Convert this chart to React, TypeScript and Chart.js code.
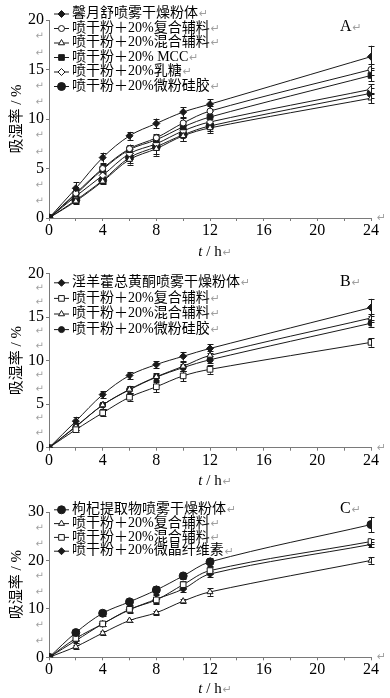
import React, { useEffect, useRef } from "react";
import { Chart, registerables } from "chart.js";
import { drawPoint } from "chart.js/helpers";

Chart.register(...registerables);

const FONT = "'Liberation Serif', 'Noto Sans CJK SC', serif";

// x axis: sampling times (h) and tick labels
const hours = [0, 2, 4, 6, 8, 10, 12, 24];
const xMinorTicks = [0, 2, 4, 6, 8, 10, 12, 14, 16, 18, 20, 22, 24];
const xTickLabels = [0, 4, 8, 12, 16, 20, 24];

// Panel A
const yTicksA = [0, 5, 10, 15, 20];
const labelsA = [
  "馨月舒喷雾干燥粉体",
  "喷干粉＋20%复合辅料",
  "喷干粉＋20%混合辅料",
  "喷干粉＋20% MCC",
  "喷干粉＋20%乳糖",
  "喷干粉＋20%微粉硅胶",
];
const a1 = [0, 3.0, 6.1, 8.3, 9.55, 10.7, 11.5, 16.3];
const a1Err = [0, 0.6, 0.5, 0.4, 0.5, 0.5, 0.5, 1.1];
const a2 = [0, 2.5, 5.0, 7.0, 8.1, 9.6, 10.8, 15.0];
const a2Err = [0, 0.4, 0.5, 0.4, 0.4, 0.5, 0.5, 0.6];
const a3 = [0, 1.7, 3.7, 5.9, 7.0, 8.3, 9.1, 12.1];
const a3Err = [0, 0.3, 0.3, 0.5, 0.5, 0.5, 0.5, 0.5];
const a4 = [0, 2.4, 4.9, 6.9, 7.9, 9.2, 10.2, 14.4];
const a4Err = [0, 0.4, 0.5, 0.5, 0.5, 0.5, 0.6, 0.6];
const a5 = [0, 2.2, 4.3, 6.5, 7.5, 8.8, 9.7, 13.0];
const a5Err = [0, 0.4, 0.4, 0.5, 0.5, 0.5, 0.5, 0.5];
const a6 = [0, 1.8, 3.8, 6.1, 7.2, 8.4, 9.3, 12.6];
const a6Err = [0, 0.3, 0.3, 0.5, 0.9, 0.6, 0.5, 0.5];

// Panel B
const yTicksB = [0, 5, 10, 15, 20];
const labelsB = [
  "淫羊藿总黄酮喷雾干燥粉体",
  "喷干粉＋20%复合辅料",
  "喷干粉＋20%混合辅料",
  "喷干粉＋20%微粉硅胶",
];
const b1 = [0, 3.05, 6.1, 8.3, 9.55, 10.5, 11.4, 16.1];
const b1Err = [0, 0.5, 0.4, 0.4, 0.4, 0.5, 0.5, 1.0];
const b2 = [0, 2.07, 4.0, 5.8, 7.0, 8.25, 9.0, 12.1];
const b2Err = [0, 0.3, 0.4, 0.4, 0.6, 0.6, 0.5, 0.5];
const b3 = [0, 2.45, 4.9, 6.7, 8.15, 9.35, 10.6, 14.9];
const b3Err = [0, 0.4, 0.4, 0.4, 0.4, 0.5, 0.5, 0.5];
const b4 = [0, 2.4, 4.9, 6.65, 8.1, 9.2, 10.1, 14.3];
const b4Err = [0, 0.4, 0.4, 0.4, 0.4, 0.4, 0.4, 0.4];

// Panel C
const yTicksC = [0, 10, 20, 30];
const labelsC = [
  "枸杞提取物喷雾干燥粉体",
  "喷干粉＋20%复合辅料",
  "喷干粉＋20%混合辅料",
  "喷干粉＋20%微晶纤维素",
];
const c1 = [0, 5.1, 9.1, 11.45, 13.9, 16.8, 19.7, 27.4];
const c1Err = [0, 0.5, 0.6, 0.6, 0.9, 0.7, 0.9, 1.6];
const c2 = [0, 2.2, 5.0, 7.6, 9.2, 11.6, 13.5, 20.0];
const c2Err = [0, 0.4, 0.4, 0.4, 0.4, 0.4, 0.8, 0.7];
const c3 = [0, 3.9, 6.9, 9.9, 11.85, 15.0, 17.9, 23.9];
const c3Err = [0, 0.5, 0.5, 0.6, 0.6, 0.7, 0.7, 0.6];
const c4 = [0, 3.45, 6.9, 9.8, 12.0, 14.1, 17.2, 23.3];
const c4Err = [0, 0.5, 0.5, 0.6, 0.9, 0.7, 0.7, 0.6];

type SeriesDef = {
  label: string;
  data: number[];
  err: number[];
  style: string;
  filled: boolean;
  radius: number;
};

const seriesA: SeriesDef[] = [
  { label: labelsA[0], data: a1, err: a1Err, style: "rectRot", filled: true, radius: 3.5 },
  { label: labelsA[1], data: a2, err: a2Err, style: "circle", filled: false, radius: 3 },
  { label: labelsA[2], data: a3, err: a3Err, style: "triangle", filled: false, radius: 3.5 },
  { label: labelsA[3], data: a4, err: a4Err, style: "rect", filled: true, radius: 4 },
  { label: labelsA[4], data: a5, err: a5Err, style: "rectRot", filled: false, radius: 3.5 },
  { label: labelsA[5], data: a6, err: a6Err, style: "circle", filled: true, radius: 4 },
];
const seriesB: SeriesDef[] = [
  { label: labelsB[0], data: b1, err: b1Err, style: "rectRot", filled: true, radius: 3.5 },
  { label: labelsB[1], data: b2, err: b2Err, style: "rect", filled: false, radius: 4 },
  { label: labelsB[2], data: b3, err: b3Err, style: "triangle", filled: false, radius: 3.5 },
  { label: labelsB[3], data: b4, err: b4Err, style: "circle", filled: true, radius: 3 },
];
const seriesC: SeriesDef[] = [
  { label: labelsC[0], data: c1, err: c1Err, style: "circle", filled: true, radius: 4 },
  { label: labelsC[1], data: c2, err: c2Err, style: "triangle", filled: false, radius: 3.5 },
  { label: labelsC[2], data: c3, err: c3Err, style: "rect", filled: false, radius: 4 },
  { label: labelsC[3], data: c4, err: c4Err, style: "rectRot", filled: true, radius: 3.5 },
];

const LINE = "#1a1a1a";
const AXIS = "#7a7a7a";
const MARK = "#a0a0a0";

const errorBarPlugin = {
  id: "errorBars",
  beforeDatasetsDraw(chart: any) {
    const ctx = chart.ctx;
    const ys = chart.scales.y;
    ctx.save();
    ctx.strokeStyle = LINE;
    ctx.lineWidth = 1;
    chart.data.datasets.forEach((ds: any, i: number) => {
      const meta = chart.getDatasetMeta(i);
      meta.data.forEach((pt: any, j: number) => {
        const e = ds.errors?.[j];
        if (!e) return;
        const v = ds.data[j].y;
        const x = Math.round(pt.x) + 0.5;
        const y1 = ys.getPixelForValue(v + e);
        const y2 = ys.getPixelForValue(v - e);
        ctx.beginPath();
        ctx.moveTo(x, y1);
        ctx.lineTo(x, y2);
        ctx.moveTo(x - 3, Math.round(y1) + 0.5);
        ctx.lineTo(x + 3, Math.round(y1) + 0.5);
        ctx.moveTo(x - 3, Math.round(y2) + 0.5);
        ctx.lineTo(x + 3, Math.round(y2) + 0.5);
        ctx.stroke();
      });
    });
    ctx.restore();
  },
};

const decorPlugin = {
  id: "decor",
  afterDraw(chart: any, _args: any, opts: any) {
    const ctx = chart.ctx;
    const area = chart.chartArea;
    ctx.save();
    // legend
    ctx.textBaseline = "middle";
    chart.data.datasets.forEach((ds: any, i: number) => {
      const y = opts.legendY + i * opts.legendDy;
      ctx.strokeStyle = LINE;
      ctx.lineWidth = 1;
      ctx.beginPath();
      ctx.moveTo(54, y + 0.5);
      ctx.lineTo(69, y + 0.5);
      ctx.stroke();
      ctx.fillStyle = ds.pointBackgroundColor;
      ctx.strokeStyle = LINE;
      drawPoint(ctx, { pointStyle: ds.pointStyle, rotation: 0, radius: ds.pointRadius, borderWidth: 1 }, 61.5, y + 0.5);
      ctx.font = `14px ${FONT}`;
      ctx.fillStyle = "#000";
      ctx.textAlign = "left";
      ctx.fillText(ds.label, 72, y);
      const w = ctx.measureText(ds.label).width;
      ctx.font = `11px 'DejaVu Sans'`;
      ctx.fillStyle = MARK;
      ctx.fillText("↵", 72 + w + 1, y + 1);
    });
    // panel letter
    ctx.font = `16px ${FONT}`;
    ctx.fillStyle = "#000";
    ctx.textAlign = "left";
    ctx.fillText(opts.letter, 340, opts.letterY);
    const lw = ctx.measureText(opts.letter).width;
    ctx.font = `11px 'DejaVu Sans'`;
    ctx.fillStyle = MARK;
    ctx.fillText("↵", 340 + lw + 1, opts.letterY + 1);
    // x axis title
    const cx = (area.left + area.right) / 2;
    const ty = area.bottom + opts.titleDy;
    ctx.font = `italic 15px ${FONT}`;
    const tW = ctx.measureText("t").width;
    ctx.font = `15px ${FONT}`;
    const rest = " / h";
    const rW = ctx.measureText(rest).width;
    const x0 = cx - (tW + rW) / 2;
    ctx.fillStyle = "#000";
    ctx.font = `italic 15px ${FONT}`;
    ctx.fillText("t", x0, ty);
    ctx.font = `15px ${FONT}`;
    ctx.fillText(rest, x0 + tW, ty);
    ctx.font = `11px 'DejaVu Sans'`;
    ctx.fillStyle = MARK;
    ctx.fillText("↵", x0 + tW + rW + 1, ty + 1);
    ctx.fillText("↵", area.right + 6, area.bottom);
    ctx.restore();
  },
};

type PanelProps = {
  height: number;
  series: SeriesDef[];
  yTicks: number[];
  top: number;
  xAxisH: number;
  legendY: number;
  legendDy: number;
  letter: string;
  letterY: number;
  titleDy: number;
};

function Panel(p: PanelProps) {
  const ref = useRef<HTMLCanvasElement | null>(null);
  useEffect(() => {
    if (!ref.current) return;
    const yMax = p.yTicks[p.yTicks.length - 1];
    const major = p.yTicks[1] - p.yTicks[0];
    const yAll: number[] = [];
    for (let i = 0; i < p.yTicks.length - 1; i++) {
      yAll.push(p.yTicks[i], p.yTicks[i] + major / 3, p.yTicks[i] + (2 * major) / 3);
    }
    yAll.push(yMax);
    const isMajor = (v: number) => p.yTicks.some((t) => Math.abs(t - v) < 1e-6);

    const chart = new Chart(ref.current, {
      type: "line",
      data: {
        datasets: p.series.map((s) => ({
          label: s.label,
          data: hours.map((h, i) => ({ x: h, y: s.data[i] })),
          errors: s.err,
          borderColor: LINE,
          borderWidth: 1,
          pointStyle: s.style,
          pointRadius: s.radius,
          pointBorderWidth: 1,
          pointBorderColor: LINE,
          pointBackgroundColor: s.filled ? LINE : "#fff",
          tension: 0.35,
          fill: false,
        })) as any,
      },
      options: {
        animation: false,
        responsive: false,
        maintainAspectRatio: false,
        layout: { padding: { top: p.top, right: 19, bottom: 0, left: 0 } },
        plugins: {
          legend: { display: false },
          tooltip: { enabled: false },
          decor: { legendY: p.legendY, legendDy: p.legendDy, letter: p.letter, letterY: p.letterY, titleDy: p.titleDy },
        } as any,
        scales: {
          x: {
            type: "linear",
            min: 0,
            max: 24,
            afterBuildTicks: (s: any) => {
              s.ticks = xMinorTicks.map((v) => ({ value: v }));
            },
            afterFit: (s: any) => {
              s.height = p.xAxisH;
            },
            grid: { drawOnChartArea: false, drawTicks: true, tickLength: 3, color: AXIS },
            border: { color: AXIS, width: 1 },
            ticks: {
              padding: 0,
              autoSkip: false,
              maxRotation: 0,
              color: "#000",
              font: { family: FONT, size: 16 },
              callback: (v: any) => (xTickLabels.includes(Number(v)) ? String(v) : ""),
            },
          },
          y: {
            type: "linear",
            min: 0,
            max: yMax,
            afterBuildTicks: (s: any) => {
              s.ticks = yAll.map((v) => ({ value: v }));
            },
            afterFit: (s: any) => {
              s.width = 49;
            },
            grid: {
              drawOnChartArea: false,
              drawTicks: true,
              tickLength: 3,
              color: (c: any) => (c.tick && isMajor(c.tick.value) ? AXIS : "rgba(0,0,0,0)"),
            },
            border: { color: AXIS, width: 1 },
            ticks: {
              padding: 2,
              autoSkip: false,
              color: (c: any) => (isMajor(c.tick.value) ? "#000" : MARK),
              font: (c: any) =>
                c.tick && isMajor(c.tick.value)
                  ? { family: FONT, size: 16 }
                  : { family: "'DejaVu Sans'", size: 10 },
              callback: (v: any) => (isMajor(Number(v)) ? String(Math.round(Number(v))) : "↵"),
            },
            title: {
              display: true,
              text: "吸湿率 / %",
              color: "#000",
              font: { family: FONT, size: 15 },
              padding: { top: 8, bottom: 0 },
            },
          },
        },
      },
      plugins: [errorBarPlugin, decorPlugin],
    } as any);
    return () => chart.destroy();
  }, []);
  return <canvas ref={ref} width={390} height={p.height} style={{ display: "block", width: 390, height: p.height }} />;
}

export default function App() {
  return (
    <div style={{ position: "absolute", top: 0, left: 0, width: 390, height: 698, background: "#fff" }}>
      <Panel height={262} series={seriesA} yTicks={yTicksA} top={20} xAxisH={44} legendY={13.5} legendDy={14.5} letter="A" letterY={27} titleDy={34} />
      <Panel height={232} series={seriesB} yTicks={yTicksB} top={10.7} xAxisH={46.3} legendY={20.3} legendDy={15.6} letter="B" letterY={20} titleDy={33} />
      <Panel height={204} series={seriesC} yTicks={yTicksC} top={18} xAxisH={40.7} legendY={15.3} legendDy={13.8} letter="C" letterY={15} titleDy={31.5} />
    </div>
  );
}
